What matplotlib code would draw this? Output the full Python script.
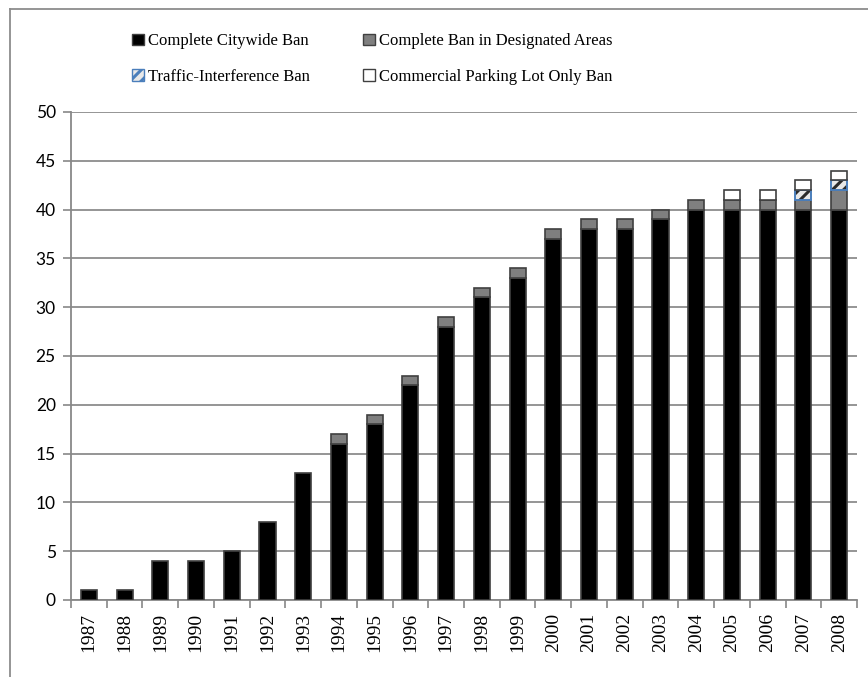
import numpy as np
import matplotlib
matplotlib.use("Agg")
import matplotlib.pyplot as plt
from matplotlib.patches import Patch
from matplotlib.lines import Line2D

years = ["1987", "1988", "1989", "1990", "1991", "1992", "1993", "1994", "1995", "1996", "1997",
         "1998", "1999", "2000", "2001", "2002", "2003", "2004", "2005", "2006", "2007", "2008"]
citywide = [1, 1, 4, 4, 5, 8, 13, 16, 18, 22, 28, 31, 33, 37, 38, 38, 39, 40, 40, 40, 40, 40]
designated = [0, 0, 0, 0, 0, 0, 0, 1, 1, 1, 1, 1, 1, 1, 1, 1, 1, 1, 1, 1, 1, 2]
traffic = [0, 0, 0, 0, 0, 0, 0, 0, 0, 0, 0, 0, 0, 0, 0, 0, 0, 0, 0, 0, 1, 1]
commercial = [0, 0, 0, 0, 0, 0, 0, 0, 0, 0, 0, 0, 0, 0, 0, 0, 0, 0, 1, 1, 1, 1]
labels = ["Complete Citywide Ban", "Complete Ban in Designated Areas",
          "Traffic-Interference Ban", "Commercial Parking Lot Only Ban"]
yticks = [0, 5, 10, 15, 20, 25, 30, 35, 40, 45, 50]

plt.rcParams["hatch.linewidth"] = 2.2
plt.rcParams["hatch.color"] = "#2a2a2a"

W, H = 868, 677
fig = plt.figure(figsize=(W / 100, H / 100), dpi=100)
ax = fig.add_axes([71 / W, 1 - 600 / H, (857 - 71) / W, (600 - 112) / H])

serif = "Liberation Serif"
x = np.arange(len(years))
bw = 0.45
edge = "#404040"

cw = np.array(citywide, float)
dg = np.array(designated, float)
tr = np.array(traffic, float)
cm = np.array(commercial, float)

def stack(vals, bottom, **kw):
    m = vals > 0
    return ax.bar(x[m], vals[m], bw, bottom=bottom[m], zorder=3, **kw)

b0 = np.zeros(len(x))
stack(cw, b0, color="black", edgecolor=edge, linewidth=1.2)
b1 = b0 + cw
stack(dg, b1, color="#7f7f7f", edgecolor=edge, linewidth=1.2)
b2 = b1 + dg
stack(tr, b2, facecolor="#e8e8e8", edgecolor="#2a2a2a", hatch="///", linewidth=0)
stack(tr, b2, fill=False, edgecolor="#4a7ebb", linewidth=1.4)
b3 = b2 + tr
stack(cm, b3, color="white", edgecolor=edge, linewidth=1.2)

ax.set_xlim(-0.5, len(x) - 0.5)
ax.set_ylim(0, 50)
ax.set_yticks(yticks)
ax.set_yticklabels([str(v) for v in yticks], fontsize=12.5, family="Lato")
ax.set_xticks(x)
ax.set_xticklabels(years, rotation=90, fontsize=14, family=serif)
ax.set_xticks(np.arange(len(x) + 1) - 0.5, minor=True)
ax.tick_params(axis="x", which="major", length=0, pad=9)
ax.tick_params(axis="x", which="minor", length=6, color="#888888", width=1.2, direction="out")
ax.tick_params(axis="y", length=6, color="#888888", width=1.2, pad=5)
ax.yaxis.grid(True, color="#8c8c8c", linewidth=1.3, zorder=0)
ax.set_axisbelow(True)
for s in ["top", "right"]:
    ax.spines[s].set_visible(False)
for s in ["left", "bottom"]:
    ax.spines[s].set_color("#888888")
    ax.spines[s].set_linewidth(1.3)

handles = [
    Patch(facecolor="black", edgecolor=edge),
    Patch(facecolor="#e8e8e8", edgecolor="#4a7ebb", hatch="///"),
    Patch(facecolor="#7f7f7f", edgecolor=edge),
    Patch(facecolor="white", edgecolor=edge),
]
leg_labels = [labels[0], labels[2], labels[1], labels[3]]
fig.legend(handles, leg_labels, ncol=2, loc="center left",
           bbox_to_anchor=(124 / W, 1 - 59 / H), frameon=False,
           prop={"family": serif, "size": 12}, handlelength=0.7, handleheight=0.7,
           handletextpad=0.25, columnspacing=3.2, labelspacing=1.15, borderpad=0)

# outer chart border (left and top visible)
fig.add_artist(Line2D([10 / W, 10 / W], [1 - 9 / H, -0.1], color="#8c8c8c", linewidth=1.3,
                      transform=fig.transFigure))
fig.add_artist(Line2D([10 / W, 1.1], [1 - 9 / H, 1 - 9 / H], color="#8c8c8c", linewidth=1.3,
                      transform=fig.transFigure))

fig.savefig("out.png", dpi=100)
